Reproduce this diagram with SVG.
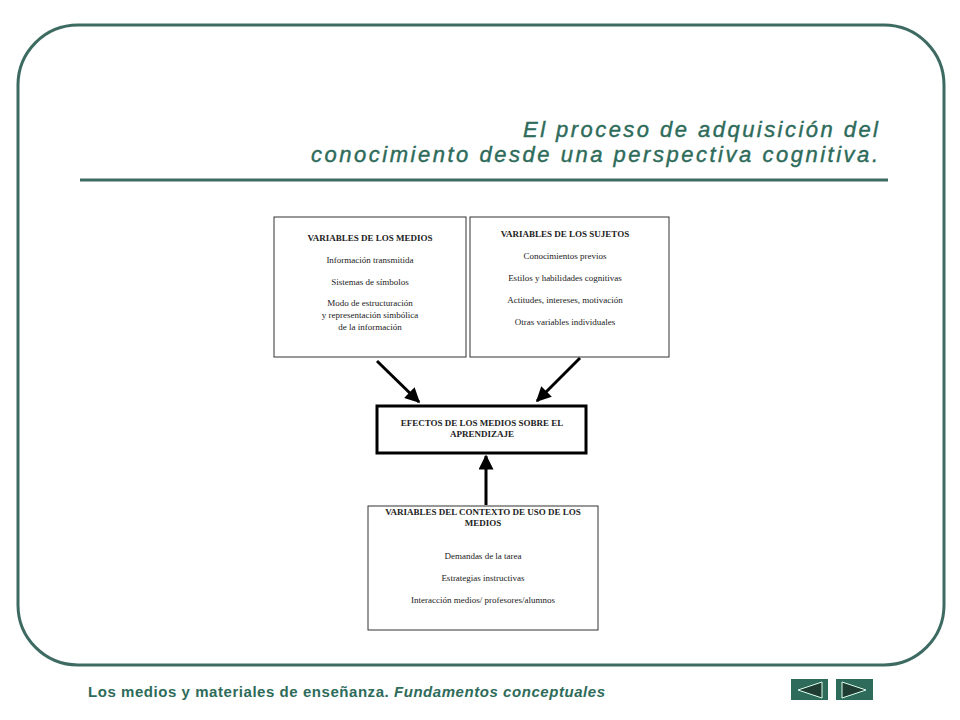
<svg xmlns="http://www.w3.org/2000/svg" width="960" height="720" viewBox="0 0 960 720">
<defs>
<style>
.bx{fill:#fff;stroke:#333;stroke-width:1}
.t{font-family:"Liberation Serif",serif;font-size:9px;fill:#222;text-anchor:middle}
.h{font-family:"Liberation Serif",serif;font-size:9px;font-weight:bold;fill:#222;text-anchor:middle}
.ttl{font-family:"Liberation Sans",sans-serif;font-size:22px;font-style:italic;fill:#2e6b5a;stroke:#2e6b5a;stroke-width:0.4}
</style>
<marker id="ah" viewBox="0 0 10 10" refX="9" refY="5" markerWidth="5" markerHeight="5" orient="auto"><path d="M0,0 L10,5 L0,10 z" fill="#000"/></marker>
</defs>
<rect width="960" height="720" fill="#fff"/>
<rect x="18" y="25" width="926" height="640" rx="60" fill="#fff" stroke="#3d6b62" stroke-width="3"/>
<text class="ttl" x="523" y="137" textLength="355" lengthAdjust="spacing">El proceso de adquisición del</text>
<text class="ttl" x="311" y="162" textLength="567" lengthAdjust="spacing">conocimiento desde una perspectiva cognitiva.</text>
<line x1="80" y1="180" x2="888" y2="180" stroke="#3d6b62" stroke-width="3"/>
<g id="medios"><rect class="bx" x="274" y="217" width="192" height="140"/>
<text class="h" x="370" y="241">VARIABLES DE LOS MEDIOS</text>
<text class="t" x="370" y="263">Información transmitida</text>
<text class="t" x="370" y="285">Sistemas de símbolos</text>
<text class="t" x="370" y="306">Modo de estructuración</text>
<text class="t" x="370" y="318">y representación simbólica</text>
<text class="t" x="370" y="330">de la información</text></g>
<g id="sujetos"><rect class="bx" x="470" y="217" width="199" height="140"/>
<text class="h" x="565" y="237">VARIABLES DE LOS SUJETOS</text>
<text class="t" x="565" y="259">Conocimientos previos</text>
<text class="t" x="565" y="281">Estilos y habilidades cognitivas</text>
<text class="t" x="565" y="303">Actitudes, intereses, motivación</text>
<text class="t" x="565" y="325">Otras variables individuales</text></g>
<g id="efectos"><rect x="377" y="406" width="209" height="47" fill="#fff" stroke="#000" stroke-width="3"/>
<text class="h" x="482" y="426">EFECTOS DE LOS MEDIOS SOBRE EL</text>
<text class="h" x="482" y="437">APRENDIZAJE</text></g>
<g id="contexto"><rect class="bx" x="368" y="506" width="230" height="124"/>
<text class="h" x="483" y="515">VARIABLES DEL CONTEXTO DE USO DE LOS</text>
<text class="h" x="483" y="526">MEDIOS</text>
<text class="t" x="483" y="559">Demandas de la tarea</text>
<text class="t" x="483" y="581">Estrategias instructivas</text>
<text class="t" x="483" y="603">Interacción medios/ profesores/alumnos</text></g>
<g id="connectors" stroke="#000" stroke-width="3" fill="none">
<line x1="377" y1="361" x2="419" y2="402" marker-end="url(#ah)"/>
<line x1="580" y1="358" x2="537" y2="401" marker-end="url(#ah)"/>
<line x1="486" y1="505" x2="486" y2="456" marker-end="url(#ah)"/>
</g>
<text x="88" y="697" font-family="Liberation Sans,sans-serif" font-size="15" font-weight="bold" fill="#2e6b5a" textLength="517" lengthAdjust="spacing">Los medios y materiales de enseñanza. <tspan font-style="italic">Fundamentos conceptuales</tspan></text>
<g id="nav">
<rect x="791" y="679" width="37" height="21" fill="#2e6b5a"/>
<path d="M822,682 L798,690 L822,698 z" fill="#1f3d33" stroke="#dfe" stroke-width="1"/>
<rect x="836" y="679" width="37" height="21" fill="#2e6b5a"/>
<path d="M842,682 L866,690 L842,698 z" fill="#1f3d33" stroke="#dfe" stroke-width="1"/>
</g>
</svg>
